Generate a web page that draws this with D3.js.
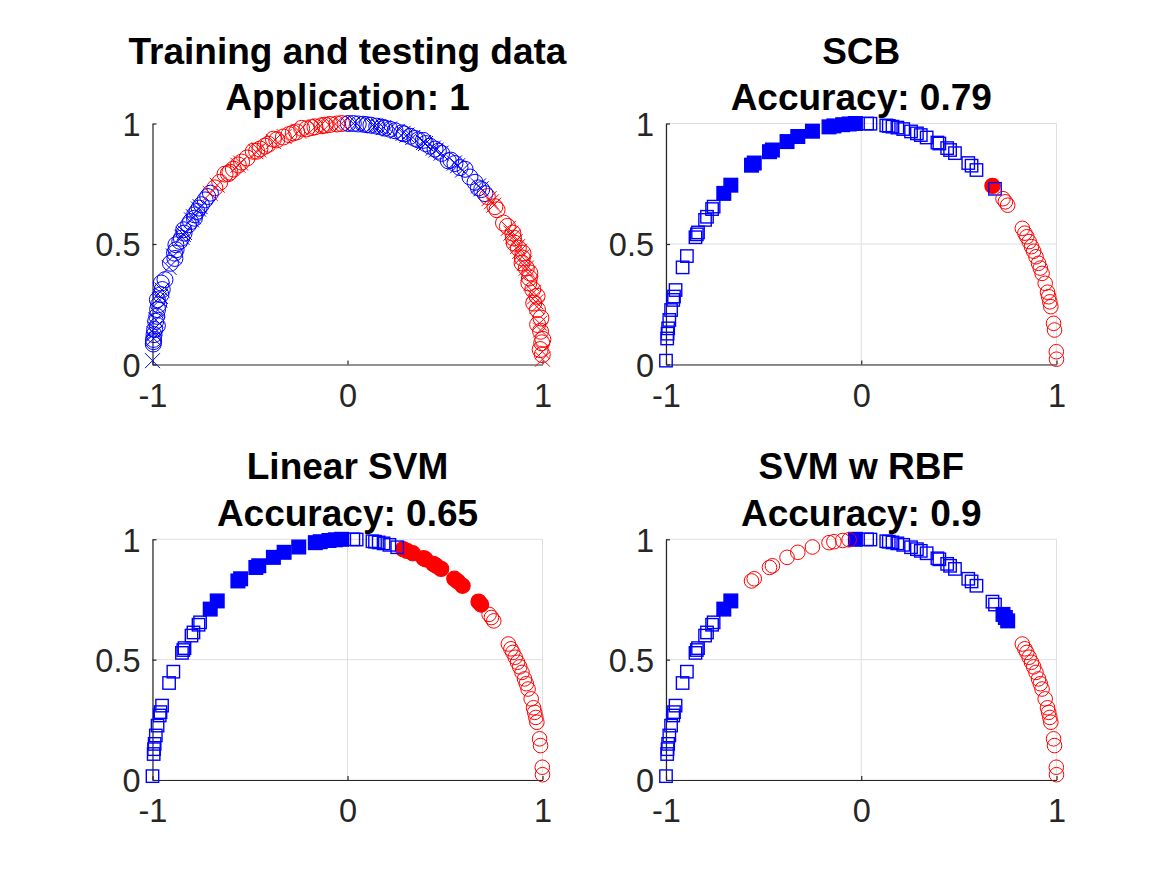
<!DOCTYPE html>
<html><head><meta charset="utf-8">
<script src="https://cdn.jsdelivr.net/npm/d3@7"></script>
<style>html,body{margin:0;padding:0;background:#fff;} svg{display:block;}</style>
</head><body>
<script>
// ---------- data ----------
const xTicks = [-1, 0, 1];
const yTicks = [0, 0.5, 1];
const panelTitles = [
  ["Training and testing data", "Application: 1"],
  ["SCB", "Accuracy: 0.79"],
  ["Linear SVM", "Accuracy: 0.65"],
  ["SVM w RBF", "Accuracy: 0.9"]
];

// training points, class 1 (blue)
const trainBlueX = [-0.996,-0.995,-0.995,-0.992,-0.989,-0.975,-0.984,-0.978,-0.974,-0.969,-0.975,-0.957,-0.950,-0.955,-0.936,-0.908,-0.885,-0.887,-0.879,-0.880,-0.860,-0.852,-0.838,-0.840,-0.815,-0.805,-0.785,-0.784,-0.772,-0.761,-0.749,-0.730,-0.717,-0.703,
  0.004,0.030,0.055,0.081,0.100,0.120,0.150,0.175,0.192,0.218,0.244,0.278,0.290,0.321,0.346,0.363,0.389,0.400,0.423,0.449,0.466,0.483,0.517,0.530,0.551,0.577,0.603,0.628,0.654,0.671,0.688,0.705];
const trainBlueY = [0.085,0.095,0.104,0.124,0.145,0.161,0.179,0.200,0.228,0.248,0.269,0.290,0.311,0.338,0.352,0.420,0.440,0.462,0.476,0.497,0.511,0.524,0.545,0.559,0.580,0.593,0.607,0.621,0.635,0.649,0.663,0.683,0.697,0.711,
  1.000,1.000,0.998,0.997,0.995,0.993,0.989,0.985,0.981,0.976,0.970,0.961,0.957,0.947,0.938,0.932,0.930,0.917,0.906,0.894,0.885,0.876,0.845,0.848,0.834,0.817,0.810,0.778,0.756,0.733,0.726,0.709];
// training points, class 2 (red)
const trainRedX = [-0.680,-0.655,-0.628,-0.611,-0.603,-0.585,-0.560,-0.543,-0.515,-0.483,-0.466,-0.449,-0.423,-0.406,-0.380,-0.363,-0.329,-0.300,-0.278,-0.261,-0.235,-0.209,-0.184,-0.167,-0.132,-0.115,-0.090,-0.055,-0.030,
  0.717,0.756,0.767,0.800,0.820,0.848,0.851,0.855,0.876,0.900,0.897,0.895,0.917,0.935,0.933,0.930,0.950,0.972,0.955,0.974,0.992,0.975,0.990,1.002,0.996,0.988,0.999];
const trainRedY = [0.733,0.756,0.790,0.792,0.798,0.811,0.828,0.840,0.857,0.885,0.885,0.894,0.906,0.914,0.935,0.932,0.944,0.954,0.961,0.965,0.980,0.978,0.983,0.986,0.991,0.993,0.996,0.998,1.000,
  0.697,0.655,0.642,0.587,0.573,0.545,0.525,0.504,0.483,0.462,0.442,0.421,0.400,0.380,0.359,0.338,0.311,0.283,0.255,0.228,0.193,0.166,0.138,0.104,0.090,0.062,0.041];

// test points
const testX = [-1.000,-0.994,-0.992,-0.989,-0.983,-0.974,-0.963,-0.959,-0.951,-0.915,-0.893,-0.849,-0.842,-0.836,-0.800,-0.790,-0.764,-0.756,
  -0.704,-0.668,-0.562,-0.548,-0.470,-0.455,-0.380,-0.325,-0.250,-0.165,-0.140,-0.095,-0.062,-0.030,
  0.030,0.047,0.128,0.141,0.160,0.185,0.215,0.255,0.285,0.305,0.335,0.390,0.400,0.440,0.455,0.480,0.548,0.565,0.590,0.672,0.685,
  0.726,0.738,0.750,0.825,0.838,0.848,0.860,0.872,0.883,0.895,0.908,0.917,0.926,0.942,0.954,0.960,0.966,0.971,0.985,0.990,0.999,1.000];
const testY = [0.016,0.108,0.128,0.150,0.185,0.226,0.268,0.282,0.309,0.403,0.450,0.528,0.540,0.548,0.600,0.613,0.645,0.655,
  0.710,0.744,0.827,0.836,0.883,0.890,0.925,0.946,0.968,0.986,0.990,0.995,0.998,1.000,
  1.000,0.999,0.992,0.990,0.987,0.983,0.977,0.967,0.959,0.952,0.942,0.921,0.917,0.898,0.890,0.877,0.836,0.825,0.807,0.741,0.729,
  0.688,0.675,0.661,0.565,0.545,0.530,0.510,0.489,0.470,0.447,0.420,0.400,0.378,0.337,0.300,0.281,0.260,0.240,0.171,0.143,0.053,0.022];
const testClass = [1,1,1,1,1,1,1,1,1,1,1,1,1,1,1,1,1,1,
  2,2,2,2,2,2,2,2,2,2,2,2,2,2,
  1,1,1,1,1,1,1,1,1,1,1,1,1,1,1,1,1,1,1,1,1,
  2,2,2,2,2,2,2,2,2,2,2,2,2,2,2,2,2,2,2,2,2,2];
const predSCB = [1,1,1,1,1,1,1,1,1,1,1,1,1,1,1,1,1,1,
  1,1,1,1,1,1,1,1,1,1,1,1,1,1,
  1,1,1,1,1,1,1,1,1,1,1,1,1,1,1,1,1,1,1,2,1,
  2,2,2,2,2,2,2,2,2,2,2,2,2,2,2,2,2,2,2,2,2,2];
const predLinear = [1,1,1,1,1,1,1,1,1,1,1,1,1,1,1,1,1,1,
  1,1,1,1,1,1,1,1,1,1,1,1,1,1,
  1,1,1,1,1,1,1,1,2,2,2,2,2,2,2,2,2,2,2,2,2,
  2,2,2,2,2,2,2,2,2,2,2,2,2,2,2,2,2,2,2,2,2,2];
const predRBF = [1,1,1,1,1,1,1,1,1,1,1,1,1,1,1,1,1,1,
  1,1,2,2,2,2,2,2,2,2,2,2,2,1,
  1,1,1,1,1,1,1,1,1,1,1,1,1,1,1,1,1,1,1,1,1,
  1,1,1,2,2,2,2,2,2,2,2,2,2,2,2,2,2,2,2,2,2,2];

// ---------- drawing ----------
const W = 1167, H = 875;
const BLUE = "#0000ff", RED = "#ff0000";
const FONT = "'Liberation Sans', Arial, Helvetica, sans-serif";
const svg = d3.select("body").append("svg").attr("width", W).attr("height", H)
  .style("background", "#fff");

const frames = [
  {l: 152.5, r: 542.5, t: 123.5, b: 364.5, grid: false},
  {l: 666,   r: 1056.5, t: 123.5, b: 364.5, grid: true},
  {l: 152.5, r: 542.5, t: 539.3, b: 780,   grid: true},
  {l: 666,   r: 1056.5, t: 539.3, b: 780,   grid: true}
];

function setupPanel(i) {
  const f = frames[i];
  const x = d3.scaleLinear().domain([-1, 1]).range([f.l, f.r]);
  const y = d3.scaleLinear().domain([0, 1]).range([f.b, f.t]);
  const g = svg.append("g");
  if (f.grid) {
    g.selectAll("line.gx").data(xTicks).enter().append("line")
      .attr("x1", d => x(d)).attr("x2", d => x(d)).attr("y1", y(0)).attr("y2", y(1))
      .attr("stroke", "#dfdfdf").attr("stroke-width", 1);
    g.selectAll("line.gy").data(yTicks).enter().append("line")
      .attr("x1", x(-1)).attr("x2", x(1)).attr("y1", d => y(d)).attr("y2", d => y(d))
      .attr("stroke", "#dfdfdf").attr("stroke-width", 1);
  }
  const ax = g.append("g").attr("transform", `translate(0,${y(0)})`)
    .call(d3.axisBottom(x).tickValues(xTicks).tickFormat(d => String(d))
      .tickSizeInner(-4).tickSizeOuter(0).tickPadding(19));
  const ay = g.append("g").attr("transform", `translate(${x(-1)},0)`)
    .call(d3.axisLeft(y).tickValues(yTicks).tickFormat(d => String(d))
      .tickSizeInner(-4).tickSizeOuter(0).tickPadding(12));
  [ax, ay].forEach(a => {
    a.select(".domain").attr("stroke", "#262626").attr("stroke-width", 1.2);
    a.selectAll(".tick line").attr("stroke", "#262626").attr("stroke-width", 1.2);
    a.selectAll(".tick text").attr("fill", "#262626").style("font-family", FONT)
      .style("font-size", "32.5px");
  });
  ay.selectAll(".tick text").attr("dy", "0.36em");
  const cx = (f.l + f.r) / 2;
  const tt = g.append("text").attr("x", cx).attr("text-anchor", "middle")
    .style("font-family", FONT).style("font-size", "37px").style("font-weight", "bold").attr("fill", "#000");
  tt.append("tspan").attr("x", cx).attr("y", f.t - 60).text(panelTitles[i][0]);
  tt.append("tspan").attr("x", cx).attr("y", f.t - 13.5).text(panelTitles[i][1]);
  return {g, x, y};
}

// Panel 1: training (circles) and testing (crosses) data
{
  const {g, x, y} = setupPanel(0);
  const redTrain = trainRedX.map((v, k) => [v, trainRedY[k]]);
  const blueTrain = trainBlueX.map((v, k) => [v, trainBlueY[k]]);
  const drawCircles = (pts, col) => g.selectAll(null).data(pts).enter().append("circle")
    .attr("cx", d => x(d[0])).attr("cy", d => y(d[1])).attr("r", 8)
    .attr("fill", "none").attr("stroke", col).attr("stroke-width", 1);
  drawCircles(redTrain, RED);
  drawCircles(blueTrain, BLUE);
  const s = 7.5;
  const tests = testX.map((v, k) => ({x: v, y: testY[k], c: testClass[k]}));
  g.selectAll(null).data(tests).enter().append("path")
    .attr("d", d => {
      const px = x(d.x), py = y(d.y);
      return `M${px - s},${py - s}L${px + s},${py + s}M${px - s},${py + s}L${px + s},${py - s}`;
    })
    .attr("fill", "none").attr("stroke", d => d.c === 1 ? BLUE : RED).attr("stroke-width", 1);
}

// Panels 2-4: predictions
[predSCB, predLinear, predRBF].forEach((pred, pi) => {
  const {g, x, y} = setupPanel(pi + 1);
  const pts = testX.map((v, k) => ({x: v, y: testY[k], t: testClass[k], p: pred[k]}));
  const wrong = pts.filter(d => d.p !== d.t);
  const right = pts.filter(d => d.p === d.t);
  const draw = (arr, filled) => {
    arr.forEach(d => {
      const px = x(d.x), py = y(d.y);
      const col = d.p === 1 ? BLUE : RED;
      if (d.p === 1) {
        const h = filled ? 6.8 : 6.2;
        g.append("rect").attr("x", px - h).attr("y", py - h).attr("width", 2 * h).attr("height", 2 * h)
          .attr("fill", filled ? col : "none").attr("stroke", col).attr("stroke-width", 1.4);
      } else {
        g.append("circle").attr("cx", px).attr("cy", py).attr("r", filled ? 7.6 : 7.3)
          .attr("fill", filled ? col : "none").attr("stroke", col).attr("stroke-width", filled ? 1.2 : 1);
      }
    });
  };
  draw(wrong, true);
  draw(right, false);
});
</script>
</body></html>
